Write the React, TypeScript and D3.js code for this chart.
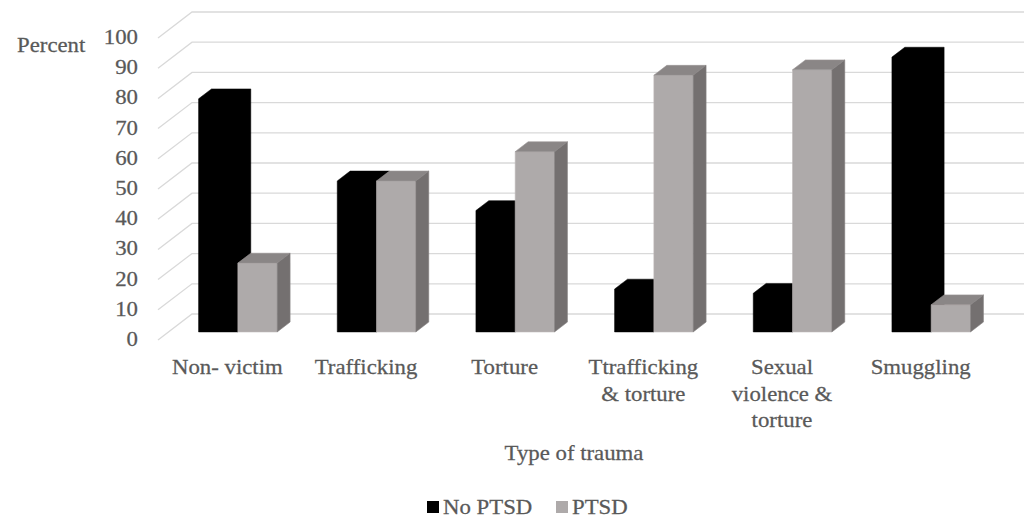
import React from "react";
import * as d3 from "d3";

const categories: string[][] = [
  ["Non- victim"],
  ["Trafficking"],
  ["Torture"],
  ["Ttrafficking", "& torture"],
  ["Sexual", "violence &", "torture"],
  ["Smuggling"],
];
const seriesNames = ["No PTSD", "PTSD"];
const noPtsd = [77.2, 50, 40.2, 14.2, 12.8, 91];
const ptsd = [22.8, 50, 59.7, 85, 86.8, 9];
const yTicks = [0, 10, 20, 30, 40, 50, 60, 70, 80, 90, 100];

const W = 1030;
const H = 518;
const FRONT_LEFT = 158;
const FRONT_RIGHT = 990;
const FLOOR_Y = 340;
const DEPTH_X = 34;
const DEPTH_Y = 26;
const BAR_T0 = 0.31;
const BAR_T1 = 0.69;
const TEXT = "#595959";
const FONT = "Liberation Serif";
const FS = 20;
const SX = 1.14;

const COLORS = {
  black: "#000000",
  greyFront: "#AEAAAA",
  greyTop: "#8A8686",
  greySide: "#747070",
};

function STxt(props: { x: number; y: number; anchor?: string; children: React.ReactNode; fill?: string }) {
  return (
    <g transform={`translate(${props.x},${props.y}) scale(${SX},1)`}>
      <text
        x={0}
        y={0}
        textAnchor={(props.anchor as any) || "start"}
        style={{ fontFamily: FONT, fontSize: FS }}
        fill={props.fill || TEXT}
        stroke={props.fill || TEXT}
        strokeWidth={0.25}
      >
        {props.children}
      </text>
    </g>
  );
}

export default function App() {
  const y = d3.scaleLinear().domain([0, 100]).range([0, 302]);
  const xBand = d3
    .scaleBand<number>()
    .domain(categories.map((_, i) => i))
    .range([FRONT_LEFT, FRONT_RIGHT])
    .padding(0);
  const barW = 39.3;
  const sub = d3.scaleBand<string>().domain(seriesNames).range([-barW, barW]).padding(0);

  const P = (x: number, v: number, t: number): [number, number] => [
    x + t * DEPTH_X,
    FLOOR_Y - y(v) - t * DEPTH_Y,
  ];
  const poly = (pts: [number, number][]) => pts.map((p) => p.join(",")).join(" ");

  const bars: React.ReactNode[] = [];
  categories.forEach((_, i) => {
    const cx = (xBand(i) as number) + xBand.bandwidth() / 2;
    [noPtsd[i], ptsd[i]].forEach((v, s) => {
      const x0 = cx + (sub(seriesNames[s]) as number);
      const x1 = x0 + sub.bandwidth();
      const front = [P(x0, 0, BAR_T0), P(x0, v, BAR_T0), P(x1, v, BAR_T0), P(x1, 0, BAR_T0)];
      const top = [P(x0, v, BAR_T0), P(x0, v, BAR_T1), P(x1, v, BAR_T1), P(x1, v, BAR_T0)];
      const side = [P(x1, 0, BAR_T0), P(x1, v, BAR_T0), P(x1, v, BAR_T1), P(x1, 0, BAR_T1)];
      if (s === 0) {
        const hull = [
          P(x0, 0, BAR_T0),
          P(x0, v, BAR_T0),
          P(x0, v, BAR_T1),
          P(x1, v, BAR_T1),
          P(x1, 0, BAR_T1),
          P(x1, 0, BAR_T0),
        ];
        bars.push(
          <polygon key={`b${i}-${s}`} points={poly(hull)} fill={COLORS.black} stroke={COLORS.black} strokeWidth={0.5} />
        );
      } else {
        bars.push(
          <g key={`b${i}-${s}`}>
            <polygon points={poly(front)} fill={COLORS.greyFront} stroke="#bdb9b9" strokeWidth={0.6} />
            <polygon points={poly(top)} fill={COLORS.greyTop} stroke="#9a9696" strokeWidth={0.6} />
            <polygon points={poly(side)} fill={COLORS.greySide} stroke="#858181" strokeWidth={0.6} />
          </g>
        );
      }
    });
  });

  return (
    <svg width={W} height={H} style={{ display: "block", position: "absolute", left: 0, top: 0 }}>
      <rect width={W} height={H} fill="#ffffff" />
      {yTicks.map((t) => {
        const a = P(FRONT_LEFT, t, 0);
        const b = P(FRONT_LEFT, t, 1);
        const c = P(FRONT_RIGHT, t, 1);
        return (
          <polyline
            key={`g${t}`}
            points={poly([a, b, c])}
            fill="none"
            stroke="#d9d9d9"
            strokeWidth={1.3}
          />
        );
      })}
      {bars}
      {yTicks.map((t) => (
        <STxt key={`t${t}`} x={138} y={FLOOR_Y - y(t) + 6} anchor="end">
          {String(t)}
        </STxt>
      ))}
      <STxt x={17} y={52}>Percent</STxt>
      {categories.map((lines, i) => {
        const cx = (xBand(i) as number) + xBand.bandwidth() / 2;
        return (
          <g key={`c${i}`}>
            {lines.map((ln, k) => (
              <STxt key={k} x={cx} y={374 + k * 26.5} anchor="middle">
                {ln}
              </STxt>
            ))}
          </g>
        );
      })}
      <STxt x={(FRONT_LEFT + FRONT_RIGHT) / 2} y={460} anchor="middle">
        Type of trauma
      </STxt>
      <g>
        <rect x={427} y={501} width={12} height={12} fill={COLORS.black} />
        <STxt x={443} y={514}>{seriesNames[0]}</STxt>
        <rect x={556} y={501} width={12} height={12} fill={COLORS.greyFront} />
        <STxt x={572} y={514}>{seriesNames[1]}</STxt>
      </g>
    </svg>
  );
}
